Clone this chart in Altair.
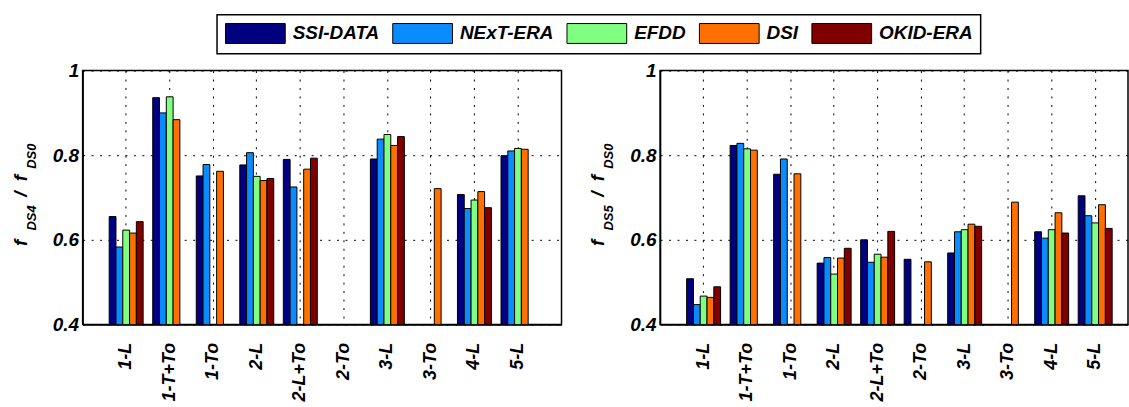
import altair as alt
import pandas as pd

categories = ["1-L", "1-T+To", "1-To", "2-L", "2-L+To", "2-To", "3-L", "3-To", "4-L", "5-L"]
series = ["SSI-DATA", "NExT-ERA", "EFDD", "DSI", "OKID-ERA"]
colors = ["#000080", "#0A8CFF", "#80FF80", "#FF7000", "#800000"]

# f_DS4 / f_DS0 (left panel), None = no bar
ds4_ssi = [0.655, 0.936, 0.751, 0.777, 0.790, None, 0.791, None, 0.707, 0.799]
ds4_next = [0.583, 0.900, 0.778, 0.806, 0.725, None, 0.838, None, 0.674, 0.810]
ds4_efdd = [0.623, 0.938, None, 0.750, None, None, 0.849, None, 0.694, 0.816]
ds4_dsi = [0.616, 0.884, 0.762, 0.740, 0.767, None, 0.823, 0.721, 0.714, 0.814]
ds4_okid = [0.643, None, None, 0.745, 0.793, None, 0.844, None, 0.676, None]

# f_DS5 / f_DS0 (right panel)
ds5_ssi = [0.508, 0.823, 0.755, 0.545, 0.600, 0.554, 0.569, None, 0.619, 0.704]
ds5_next = [0.447, 0.828, 0.791, 0.558, 0.547, None, 0.619, None, 0.604, 0.657]
ds5_efdd = [0.467, 0.815, None, 0.519, 0.566, None, 0.624, None, 0.624, 0.640]
ds5_dsi = [0.464, 0.812, 0.756, 0.557, 0.559, 0.548, 0.637, 0.689, 0.664, 0.683]
ds5_okid = [0.489, None, None, 0.580, 0.620, None, 0.632, None, 0.616, 0.627]

y_ticks = [0.4, 0.6, 0.8, 1.0]

FONT = "Liberation Sans, Arial, sans-serif"


def make_df(cols):
    rows = []
    for s, vals in zip(series, cols):
        for c, v in zip(categories, vals):
            if v is not None:
                rows.append({"case": c, "method": s, "ratio": v})
    return pd.DataFrame(rows)


legend = alt.Legend(
    orient="none", legendX=135, legendY=-56, direction="horizontal", columns=5,
    title=None, symbolType="M-1,-1H5V1H-1Z", symbolSize=400,
    symbolStrokeColor="black", symbolStrokeWidth=1, symbolOpacity=1,
    labelFont=FONT, labelFontSize=19, labelFontStyle="italic", labelFontWeight="bold",
    labelColor="black", labelOffset=47, columnPadding=11, padding=8,
    strokeColor="black", fillColor="white", labelLimit=300,
)


def title_marks(num):
    pieces = [("f", 19, -56, 173), ("DS" + num, 13, -47, 148), ("/", 19, -56, 124),
              ("f", 19, -56, 108), ("DS0", 13, -47, 86)]
    marks = []
    for txt, fs, px, py in pieces:
        marks.append(
            alt.Chart(alt.Data(values=[{"t": txt}])).mark_text(
                angle=270, align="center", baseline="alphabetic", font=FONT,
                fontSize=fs, fontStyle="italic", fontWeight="bold", color="black",
            ).encode(x=alt.value(px), y=alt.value(py), text="t:N")
        )
    return marks


def panel(df, num, width, po, align):
    xscale = alt.Scale(domain=categories, paddingInner=0.22, paddingOuter=po, align=align)
    bars = alt.Chart(df).mark_bar(stroke="black", strokeWidth=1, clip=True).encode(
        x=alt.X("case:N", scale=xscale, sort=categories,
                axis=alt.Axis(title=None, labelAngle=270, labelPadding=18, ticks=False,
                              grid=True, labelFontSize=18)),
        xOffset=alt.XOffset("method:N", sort=series,
                            scale=alt.Scale(domain=series, paddingInner=0, paddingOuter=0)),
        y=alt.Y("ratio:Q", scale=alt.Scale(domain=[0.4, 1.0], zero=False, nice=False),
                axis=alt.Axis(title=None, values=y_ticks, format="~g", ticks=False,
                              grid=True, labelPadding=4, labelFontSize=19)),
        y2=alt.datum(0.4),
        color=alt.Color("method:N", sort=series,
                        scale=alt.Scale(domain=series, range=colors), legend=legend),
    )
    return alt.layer(bars, *title_marks(num)).properties(width=width, height=255)


left = panel(make_df([ds4_ssi, ds4_next, ds4_efdd, ds4_dsi, ds4_okid]), "4", 481, 0.61, 0.5)
right = panel(make_df([ds5_ssi, ds5_next, ds5_efdd, ds5_dsi, ds5_okid]), "5", 470, 0.4875, 0.626)

chart = alt.hconcat(left, right, spacing=26).properties(
    padding={"left": 11, "top": 13, "right": 0, "bottom": 0}
).configure_view(
    stroke="black", strokeWidth=1.5
).configure_axis(
    labelFont=FONT, labelFontStyle="italic", labelFontWeight="bold", labelColor="black",
    domainColor="black", domainWidth=1.5, gridColor="black", gridWidth=1,
    gridDash=[2, 6.5], gridOpacity=1,
).configure_axisX(
    labelBaseline="middle"
).configure_legend(
    strokeWidth=1.5
)

chart.save("out.html", embed_options={"renderer": "svg", "actions": False})
